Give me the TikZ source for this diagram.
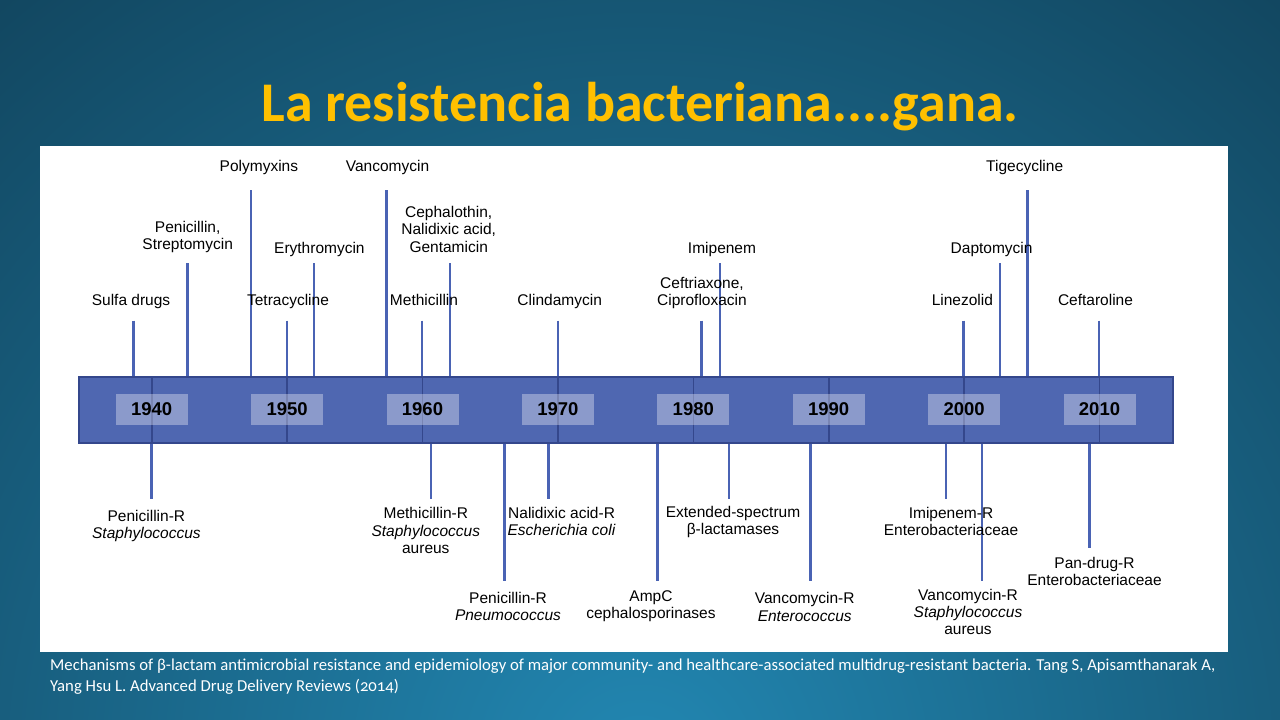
\documentclass[tikz,border=0pt]{standalone}
\usepackage{fontspec}
\setmainfont{Liberation Sans}
\newfontfamily\slidefont{Carlito}
\newfontfamily\citefont[Numbers=OldStyle]{Carlito}
\usetikzlibrary{positioning}
\definecolor{bgdark}{HTML}{0A2738}
\definecolor{bglight}{HTML}{2287B2}
\definecolor{titleyellow}{HTML}{FFC000}
\definecolor{barblue}{HTML}{4F67B1}
\definecolor{bardark}{HTML}{34478C}
\definecolor{stemblue}{HTML}{4A63B4}
\tikzset{
    drug/.style = {align=center, inner sep=0pt, font=\fontsize{15.5}{17.3}\selectfont},
    drugone/.style = {drug, text height=11.3pt, text depth=3.3pt},
    stem/.style = {line width=2.6pt, draw=stemblue},
    tick/.style = {line width=1.6pt, draw=bardark},
    yearbox/.style = {rectangle, fill=white, fill opacity=0.34, text opacity=1, minimum width=72pt, minimum height=31pt, inner sep=0pt, font=\fontsize{18.5}{20}\selectfont\bfseries},
    panel/.style = {rectangle, fill=white, inner sep=0pt, anchor=north west},
    slidetitle/.style = {text=titleyellow, font=\slidefont\bfseries\fontsize{56}{60}\selectfont},
    cite/.style = {text=white, align=left, anchor=north west, inner sep=0pt, font=\citefont\fontsize{16.7}{20.5}\selectfont}
}
\begin{document}
\begin{tikzpicture}[x=1pt,y=-1pt]
%
\path[use as bounding box] (0,0) rectangle (1280,720);
\begin{scope}
\clip (0,0) rectangle (1280,720);
\shade[inner color=bglight, outer color=bgdark] (640,770) circle (1500);
\end{scope}
%
\node[slidetitle] at (640,107) (title) {La resistencia bacteriana....gana.};
\node[panel, minimum width=1188pt, minimum height=506pt] at (40,146) (chart) {};
%
% timeline bar
\node[panel, fill=barblue, draw=bardark, line width=1.5pt, minimum width=1094pt, minimum height=66pt] at (78,376) (bar) {};
\foreach \yr [count=\i from 0] in {1940,1950,...,2010} {
    \coordinate (t\yr) at ({151.7+135.4*\i},409);
    \draw[tick] (t\yr |- bar.north) -- (t\yr |- bar.south);
    \node[yearbox] at (t\yr) (y\yr) {\yr};
}
%
% antibiotics, above
\foreach \n/\x/\y in {sulfa/133.4/320.7, penstrep/187.7/263.3, polymyx/250.9/190,
    tetra/286.8/320.7, erythro/314/263.3, vanco/386.3/190, methi/422/320.7,
    cephal/449.9/263.3, clinda/558/320.7, ceftri/701.7/320.7, imipen/720/263.3,
    linez/963.6/320.7, dapto/999.8/263.3, tige/1027.4/190, ceftar/1099/320.7} {
    \coordinate (\n) at (\x,\y);
    \draw[stem] (\n) -- (\n |- bar.north);
}
\node[drugone] at (131,301.7) (sulfa-l) {Sulfa drugs};
\node[drug] at (187.7,237) (penstrep-l) {Penicillin,\\Streptomycin};
\node[drugone] at (258.9,167.7) (polymyx-l) {Polymyxins};
\node[drugone] at (288,301.7) (tetra-l) {Tetracycline};
\node[drugone] at (319.4,249.3) (erythro-l) {Erythromycin};
\node[drugone] at (387.5,167.7) (vanco-l) {Vancomycin};
\node[drugone] at (424,301.7) (methi-l) {Methicillin};
\node[drug] at (448.7,229.2) (cephal-l) {Cephalothin,\\Nalidixic acid,\\Gentamicin};
\node[drugone] at (559.7,301.7) (clinda-l) {Clindamycin};
\node[drug] at (702,293.3) (ceftri-l) {Ceftriaxone,\\Ciprofloxacin};
\node[drugone] at (722,249.3) (imipen-l) {Imipenem};
\node[drugone] at (962.4,301.7) (linez-l) {Linezolid};
\node[drugone] at (991.6,249.3) (dapto-l) {Daptomycin};
\node[drugone] at (1024.7,167.7) (tige-l) {Tigecycline};
\node[drugone] at (1095.5,301.7) (ceftar-l) {Ceftaroline};
%
% resistance, below
\foreach \n/\x/\y in {penstaph/151.7/499.3, mrsa/431/499.3, penpneu/504.2/580.7,
    nalid/548.6/499.3, ampc/657.2/580.7, esbl/729/499.3, vre/810.2/580.7,
    imipenr/945.8/499.3, vrsa/981.8/580.7, pandrug/1089.7/548} {
    \coordinate (\n) at (\x,\y);
    \draw[stem] (\n |- bar.south) -- (\n);
}
\node[drug] at (146.4,525.7) (penstaph-l) {Penicillin-R\\\textit{Staphylococcus}};
\node[drug] at (425.8,530.7) (mrsa-l) {Methicillin-R\\\textit{Staphylococcus}\\aureus};
\node[drug] at (508,606.8) (penpneu-l) {Penicillin-R\\\textit{Pneumococcus}};
\node[drug] at (561.6,521.8) (nalid-l) {Nalidixic acid-R\\\textit{Escherichia coli}};
\node[drug] at (651,606.5) (ampc-l) {AmpC\\cephalosporinases};
\node[drug] at (733,521.8) (esbl-l) {Extended-spectrum\\β-lactamases};
\node[drug] at (804.7,607) (vre-l) {Vancomycin-R\\\textit{Enterococcus}};
\node[drug] at (951,521.8) (imipenr-l) {Imipenem-R\\Enterobacteriaceae};
\node[drug] at (968,612.1) (vrsa-l) {Vancomycin-R\\\textit{Staphylococcus}\\aureus};
\node[drug] at (1094.5,571.2) (pandrug-l) {Pan-drug-R\\Enterobacteriaceae};
%
\node[cite] at (50,659) (source) {Mechanisms of β-lactam antimicrobial resistance and epidemiology of major community- and healthcare-associated multidrug-resistant bacteria. Tang S, Apisamthanarak A,\\Yang Hsu L. Advanced Drug Delivery Reviews (2014)};
%
\end{tikzpicture}
\end{document}
